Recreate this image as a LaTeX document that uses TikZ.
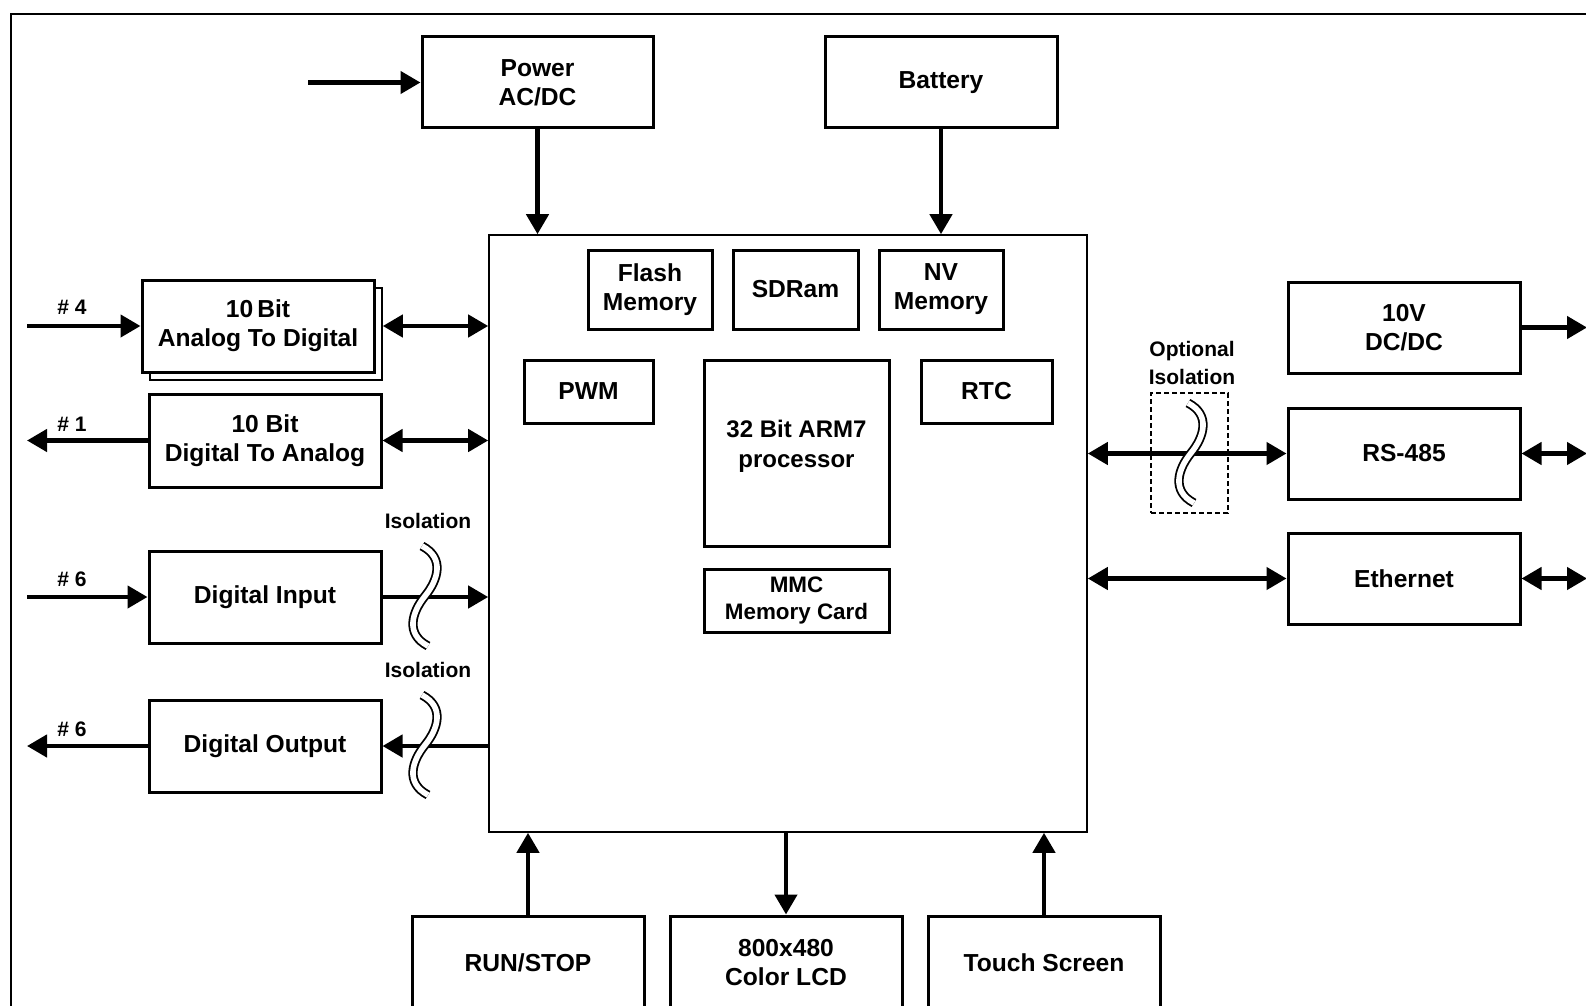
\documentclass[tikz,border=0pt]{standalone}
\usepackage{fontspec}
\setmainfont{Liberation Sans}
\usetikzlibrary{arrows.meta}
\begin{document}
\begin{tikzpicture}[x=0.5pt,y=-0.5pt,
  box/.style={draw, line width=1.5pt, fill=white, inner sep=0pt, align=center,
    font=\fontsize{12.3}{14.5}\selectfont\bfseries},
  conn/.style={line width=2.2pt, arrows={-Triangle[length=10pt,width=11pt]}},
  bidir/.style={line width=2.2pt, arrows={Triangle[length=10pt,width=11pt]-Triangle[length=10pt,width=11pt]}},
  lbl/.style={font=\fontsize{10.5}{14}\selectfont\bfseries, inner sep=0pt, align=center},
  iso/.style={draw=black, line width=0.9pt, double=white, double distance=2.8pt},
  squig/.pic={\draw[iso] (-3,-50) .. controls (20,-38) and (13,-16) .. (0,0) .. controls (-13,16) and (-20,38) .. (3,50);}
]
\path[use as bounding box] (0,0) rectangle (1586,1006);
\clip (0,0) rectangle (1586,1006);
\fill[white] (0,0) rectangle (1586,1006);
% outer frame
\draw[line width=1pt] (11,14) rectangle (1640,1060);

% top boxes
\node[box, minimum width=115.5pt, minimum height=45.5pt] (power) at (537.5,82.5) {Power\\AC/DC};
\node[box, minimum width=116pt, minimum height=45.5pt] (battery) at (941,82.5) {Battery};

% main box
\node[draw, line width=0.8pt, fill=white, minimum width=299pt, minimum height=298.5pt, inner sep=0pt] (main) at (788,533.5) {};

% inner boxes
\node[box, minimum width=62pt, minimum height=39.5pt] (flash) at (650,289.5) {Flash\\Memory};
\node[box, minimum width=62.5pt, minimum height=39.5pt] (sdram) at (795.5,289.5) {SDRam};
\node[box, minimum width=62pt, minimum height=39.5pt] (nv) at (941,289.5) {NV\\Memory};
\node[box, minimum width=64.5pt, minimum height=31.5pt] (pwm) at (588.5,391.5) {PWM};
\node[box, minimum width=92.5pt, minimum height=93pt] (arm) at (796.5,453) {};
\node[lbl, font=\fontsize{12}{15}\selectfont\bfseries] (armtxt) at (796.5,446) {32 Bit ARM7\\processor};
\node[box, minimum width=65.5pt, minimum height=31.5pt] (rtc) at (986.5,391.5) {RTC};
\node[box, minimum width=92.5pt, minimum height=31.5pt, font=\fontsize{11.2}{13.5}\selectfont\bfseries] (mmc) at (796.5,600.5) {MMC\\Memory Card};

% left boxes
\node[draw, line width=0.8pt, fill=white, minimum width=116pt, minimum height=46pt, inner sep=0pt] (adcsh) at (266,334) {};
\node[box, minimum width=116pt, minimum height=46pt] (adc) at (258,326) {10\,Bit\\Analog To Digital};
\node[box, minimum width=116pt, minimum height=46.5pt] (dac) at (265,440.5) {10 Bit\\Digital To Analog};
\node[box, minimum width=116pt, minimum height=46pt] (di) at (265,597) {Digital Input};
\node[box, minimum width=116pt, minimum height=46pt] (dout) at (265,746) {Digital Output};

% right boxes
\node[box, minimum width=116pt, minimum height=45.5pt] (dcdc) at (1404,327.5) {10V\\DC/DC};
\node[box, minimum width=116pt, minimum height=45.5pt] (rs) at (1404,453.5) {RS-485};
\node[box, minimum width=116pt, minimum height=45.5pt] (eth) at (1404,578.5) {Ethernet};

% bottom boxes
\node[box, minimum width=116pt, minimum height=47pt] (run) at (528,963) {RUN/STOP};
\node[box, minimum width=116pt, minimum height=47pt] (lcd) at (786,963) {800x480\\Color LCD};
\node[box, minimum width=116pt, minimum height=47pt] (touch) at (1044,963) {Touch Screen};

% optional isolation box
\node[draw, dash pattern=on 2.5pt off 1.5pt, line width=0.6pt, minimum width=38.5pt, minimum height=60pt, inner sep=0pt] (optbox) at (1189.5,453) {};

% labels
\node[lbl] (l4) at (72,307) {\# 4};
\node[lbl] (l1) at (72,424) {\# 1};
\node[lbl] (l6i) at (72,579) {\# 6};
\node[lbl] (l6o) at (72,729) {\# 6};
\node[lbl] (isoa) at (428,521) {Isolation};
\node[lbl] (isob) at (428,670) {Isolation};
\node[lbl] (isoc) at (1192,363) {Optional\\Isolation};

% free ends
\coordinate (pin) at (308,82.5);
\coordinate (a4) at (27,326);
\coordinate (a1) at (27,440.5);
\coordinate (a6i) at (27,597);
\coordinate (a6o) at (27,746);
\coordinate (r1) at (1587,327.5);
\coordinate (r2) at (1587,453.5);
\coordinate (r3) at (1587,578.5);

% connectors
\draw[conn] (pin) -- (power.west);
\draw[conn] (power.south) -- (power.south |- main.north);
\draw[conn] (battery.south) -- (battery.south |- main.north);

\draw[conn] (a4) -- (adc.west);
\draw[bidir] (adc.east -| adcsh.east) -- (adc.east -| main.west);
\draw[conn] (dac.west) -- (a1);
\draw[bidir] (dac.east) -- (dac.east -| main.west);
\draw[conn] (a6i) -- (di.west);
\draw[conn] (di.east) -- (di.east -| main.west);
\draw[conn] (dout.east -| main.west) -- (dout.east);
\draw[conn] (dout.west) -- (a6o);

\draw[bidir] (rs.west -| main.east) -- (rs.west);
\draw[bidir] (eth.west -| main.east) -- (eth.west);
\draw[conn] (dcdc.east) -- (r1);
\draw[bidir] (rs.east) -- (r2);
\draw[bidir] (eth.east) -- (r3);

\draw[conn] (run.north) -- (run.north |- main.south);
\draw[conn] (lcd.north |- main.south) -- (lcd.north);
\draw[conn] (touch.north) -- (touch.north |- main.south);

% isolation squiggles
\pic at (425,596) {squig};
\pic at (425,745) {squig};
\pic at (1191,453) {squig};
\end{tikzpicture}
\end{document}
